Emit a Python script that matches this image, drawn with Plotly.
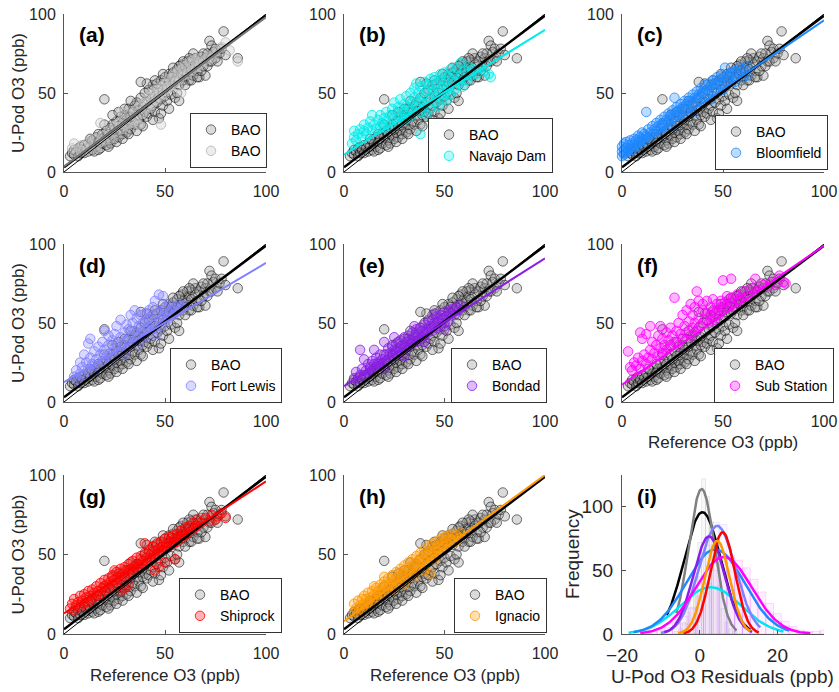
import numpy as np
import plotly.graph_objects as go

# ---------------- data ----------------
bao_pts = [(3,10),(4,12),(5,11),(5,14),(6,13),(7,10),(7,15),(8,12),(8,16),(9,14),(10,12),(10,17),(11,15),(12,13),(12,18),(13,16),(14,14),(14,20),(15,18),(15,13),
           (16,16),(16,22),(17,19),(17,14),(18,21),(18,15),(19,24),(19,18),(20,46),(20,22),(21,17),(21,26),(22,20),(22,24),(23,28),(23,18),(24,23),(24,30),(25,21),(25,27),
           (26,25),(26,32),(27,22),(27,29),(28,35),(28,26),(29,31),(29,24),(30,28),(30,36),(31,33),(31,25),(32,40),(32,30),(33,35),(33,27),(34,38),(34,32),(35,30),(35,42),
           (36,36),(36,44),(37,33),(37,39),(38,47),(38,30),(39,41),(39,36),(40,38),(40,50),(41,44),(41,35),(42,37),(42,52),(43,46),(43,40),(44,55),(44,42),(45,48),(45,38),
           (46,44),(46,56),(47,34),(47,50),(48,46),(48,58),(49,52),(49,42),(50,48),(50,60),(51,54),(51,45),(52,57),(52,62),(53,49),(53,60),(54,56),(54,63),(55,47),(55,58),
           (56,60),(56,65),(57,45),(57,55),(58,62),(58,68),(59,58),(59,64),(60,66),(60,60),(61,63),(61,70),(62,58),(62,67),(63,65),(63,71),(64,61),(65,68),(65,72),(66,64),
           (67,60),(67,70),(68,73),(69,67),(70,61),(70,72),(71,75),(72,70),(72,83),(73,80),(74,76),(75,78),(75,72),(77,75),(78,78),(79,89),(80,74),(86,72),
           (22,16),(26,19),(29,21),(32,24),(36,26),(39,29),(44,33),(48,37),(52,40),(56,50),(60,55),(63,58),(66,60),(68,64),(69,75),(71,67),(73,70),(76,70),
           (64,75),(62,72),(59,70),(57,67),(54,66),(49,62),(45,58),(41,56),(38,57),(33,45),(30,40),(27,38),(24,36),(20,30),(17,24),(13,21)]

bao2_pts = [(4,15),(5,18),(6,12),(8,14),(9,17),(11,13),(12,19),(13,16),(15,21),(16,15),(18,19),(19,23),(20,20),(22,26),(23,21),(25,29),(26,24),(27,31),(29,27),(30,33),
            (31,29),(33,37),(34,31),(35,39),(36,34),(38,42),(39,37),(40,44),(41,40),(42,48),(43,42),(44,50),(45,45),(46,52),(47,47),(48,30),(48,54),(49,49),(50,56),(51,52),
            (52,59),(53,54),(54,61),(55,57),(56,63),(57,58),(58,65),(59,61),(60,67),(61,62),(62,69),(63,64),(64,71),(65,66),(66,72),(67,68),(69,70),(71,73),(73,72),(75,76),
            (78,79),(80,82),(82,77),(86,70),(18,31),(28,38),(37,30),(58,50)]

navajo_pts = [(4,18),(5,22),(5,26),(6,20),(7,24),(8,27),(9,22),(10,26),(10,30),(11,24),(12,28),(13,32),(14,36),(14,26),(15,30),(16,27),(17,33),(18,29),(18,36),(19,31),
              (20,34),(20,28),(21,38),(22,32),(23,36),(23,29),(24,40),(25,34),(25,44),(26,37),(27,31),(27,41),(28,35),(28,46),(29,39),(30,33),(30,43),(31,48),(31,37),(32,41),
              (33,35),(33,50),(34,44),(34,39),(35,53),(35,47),(36,41),(36,56),(37,45),(37,50),(38,24),(38,38),(38,54),(39,48),(40,43),(40,57),(41,51),(41,36),(42,46),(42,55),
              (43,59),(43,40),(44,50),(44,53),(45,44),(45,60),(46,48),(46,56),(47,52),(47,42),(48,58),(48,62),(49,46),(49,54),(50,50),(50,63),(51,57),(51,45),(52,60),(52,53),
              (53,65),(53,49),(54,58),(55,62),(55,52),(56,66),(57,56),(58,61),(58,69),(59,54),(60,64),(61,58),(62,67),(63,61),(64,65),(66,62),(68,66),(70,64),(72,62),(73,60)]

bloomfield_pts = [(0,10),(0,13),(0,16),(1,11),(1,14),(1,18),(2,12),(2,15),(2,19),(3,13),(3,17),(4,15),(4,20),(5,14),(5,18),(6,17),(6,21),(7,16),(7,20),(8,19),
                  (8,23),(9,18),(9,22),(10,21),(10,25),(11,20),(11,24),(12,38),(12,23),(13,22),(13,27),(14,25),(15,24),(15,29),(16,27),(17,26),(17,31),(18,29),(19,28),(19,33),
                  (20,31),(21,30),(21,35),(22,33),(23,32),(23,37),(24,35),(25,34),(25,39),(26,47),(26,37),(27,36),(27,41),(28,39),(29,38),(29,43),(30,41),(31,40),(31,45),(32,43),
                  (33,42),(33,47),(34,45),(35,44),(35,49),(36,47),(37,46),(37,51),(38,49),(39,48),(39,53),(40,51),(41,50),(41,55),(42,52),(43,51),(43,56),(44,54),(45,53),(45,58),
                  (46,56),(47,55),(47,60),(48,57),(49,56),(49,61),(50,59),(51,66),(51,58),(52,61),(53,60),(54,63),(55,62),(56,64),(57,63),(58,66),(60,65),(62,67),(20,25),(30,35),
                  (40,44),(50,52),(44,46),(35,38),(25,29),(56,57),(60,60),(62,61)]

fortlewis_pts = [(5,16),(6,20),(7,14),(8,25),(8,18),(9,22),(10,30),(10,17),(11,25),(12,37),(12,21),(13,40),(13,28),(14,24),(15,32),(15,20),(16,27),(17,35),(17,23),(18,30),
                 (19,38),(19,26),(20,45),(20,33),(21,29),(22,42),(22,36),(23,31),(24,39),(24,27),(25,43),(25,34),(26,37),(26,48),(27,32),(28,52),(28,41),(29,36),(30,44),(30,30),
                 (31,39),(31,49),(32,46),(32,35),(33,55),(33,42),(34,38),(34,50),(35,58),(35,45),(36,41),(36,53),(37,48),(37,36),(38,55),(38,44),(39,50),(39,40),(40,56),(40,46),
                 (41,52),(41,42),(42,58),(42,48),(43,54),(43,45),(44,60),(44,50),(45,64),(45,47),(46,56),(46,43),(47,52),(47,68),(48,58),(48,48),(49,54),(49,67),(50,51),(50,60),
                 (51,56),(52,53),(52,62),(53,58),(54,55),(55,60),(56,57),(57,62),(58,60),(60,61)]

bondad_pts = [(5,15),(6,19),(7,13),(8,33),(8,17),(9,21),(10,27),(10,16),(11,20),(12,24),(12,18),(13,22),(14,26),(14,20),(15,24),(16,28),(16,22),(17,25),(18,30),(18,23),
              (19,27),(20,38),(20,25),(21,30),(22,34),(22,27),(23,31),(24,35),(24,29),(25,33),(26,37),(26,30),(27,34),(28,39),(28,32),(29,36),(30,41),(30,34),(31,38),(32,42),
              (32,35),(33,39),(34,44),(34,37),(35,41),(36,46),(36,38),(37,43),(38,47),(38,40),(39,45),(40,49),(40,42),(41,46),(42,51),(42,44),(43,48),(44,52),(44,45),(45,50),
              (46,54),(46,47),(47,51),(48,55),(48,48),(49,53),(50,57),(50,50),(51,54),(52,58),(52,51),(53,56),(54,59),(55,55),(56,60),(57,58),(58,61),(15,33),(25,41),(35,48),
              (45,56),(30,29),(40,38),(50,46),(20,21)]

substation_pts = [(3,32),(4,22),(5,20),(6,25),(7,23),(8,28),(9,44),(9,21),(10,26),(10,40),(11,30),(12,24),(12,43),(13,28),(14,48),(14,33),(15,27),(15,38),(16,31),(17,36),
                  (18,29),(18,42),(19,48),(19,34),(20,31),(20,40),(21,36),(22,44),(22,33),(23,39),(24,35),(24,47),(25,42),(26,66),(26,38),(27,45),(28,36),(28,50),(29,43),(30,55),
                  (30,40),(31,48),(32,44),(32,58),(33,51),(34,42),(34,62),(35,55),(35,47),(36,50),(36,60),(37,70),(37,45),(38,53),(38,64),(39,48),(40,58),(40,62),(41,52),(42,56),
                  (42,64),(43,50),(44,60),(44,54),(45,65),(45,57),(46,52),(47,62),(47,58),(48,55),(49,64),(49,60),(50,58),(50,77),(51,63),(52,60),(52,67),(53,65),(54,78),(54,62),
                  (55,66),(56,60),(57,68),(58,64),(59,66),(60,70),(62,67),(64,72),(66,78),(66,70),(68,71),(70,74),(72,73),(74,76),(76,74),(78,80),(80,76),(81,75)]

shiprock_pts = [(3,16),(4,19),(5,15),(5,22),(6,18),(7,20),(8,17),(8,24),(9,21),(10,19),(10,25),(11,23),(12,20),(12,27),(13,24),(14,22),(14,28),(15,26),(16,24),(16,30),
                (17,27),(18,25),(18,32),(19,29),(20,27),(20,34),(21,31),(22,29),(22,35),(23,33),(24,31),(24,37),(25,34),(26,32),(26,39),(27,36),(28,27),(28,34),(28,41),(29,38),
                (30,29),(30,36),(30,42),(31,40),(32,31),(32,38),(32,44),(33,41),(34,39),(34,46),(35,43),(36,41),(36,48),(37,44),(38,42),(38,49),(39,46),(40,44),(40,51),(41,48),
                (42,46),(42,53),(43,50),(44,48),(44,55),(45,40),(45,52),(46,50),(46,57),(47,42),(47,54),(48,52),(48,58),(49,55),(50,45),(50,54),(50,60),(51,57),(52,55),(52,61),
                (53,58),(54,57),(54,62),(55,60),(56,58),(56,63),(57,61),(58,60),(58,65),(59,63),(60,62),(60,67),(62,64),(62,68),(64,66),(64,70),(66,68),(66,72),(68,70),(70,73),
                (72,71),(73,75),(75,72),(76,74),(78,76),(80,73),(40,57),(25,40),(55,47)]

ignacio_pts = [(5,14),(5,19),(6,16),(7,13),(7,21),(8,18),(9,15),(9,22),(10,19),(10,24),(11,17),(11,22),(12,26),(12,20),(13,23),(14,27),(14,21),(15,25),(16,29),(16,23),
               (17,27),(18,31),(18,25),(19,29),(20,33),(20,26),(21,31),(22,35),(22,28),(23,32),(24,37),(24,30),(25,34),(26,39),(26,32),(27,36),(28,41),(28,33),(29,38),(30,43),
               (30,35),(31,40),(32,45),(32,37),(33,42),(34,47),(34,39),(35,44),(36,49),(36,41),(37,46),(38,51),(38,43),(39,48),(40,53),(40,45),(41,50),(42,55),(42,47),(43,52),
               (44,57),(44,49),(45,54),(46,58),(46,51),(47,55),(48,60),(48,53),(49,57),(50,61),(50,55),(51,59),(52,62),(52,56),(53,60),(54,63),(55,58),(56,62),(57,60),(58,64),
               (35,36),(40,40),(45,46),(25,28),(30,31),(15,30),(20,36),(43,38)]

site_names = ["BAO", "Navajo Dam", "Bloomfield", "Fort Lewis", "Bondad", "Sub Station", "Shiprock", "Ignacio"]
site_points = [bao2_pts, navajo_pts, bloomfield_pts, fortlewis_pts, bondad_pts, substation_pts, shiprock_pts, ignacio_pts]
site_colors = [(175, 175, 175), (0, 235, 235), (30, 136, 255), (128, 128, 255), (138, 30, 232), (255, 0, 255), (255, 0, 0), (255, 153, 0)]
site_fit_intercept = [3.5, 11, 9, 12.5, 10, 11, 13, 8]
site_fit_slope = [0.945, 0.79, 0.87, 0.755, 0.81, 0.88, 0.83, 0.92]
bao_fit_intercept, bao_fit_slope = 3.0, 0.96
panel_labels = ["(a)", "(b)", "(c)", "(d)", "(e)", "(f)", "(g)", "(h)", "(i)"]

# residual normal fits (panel i)
curve_colors = ["black", "#808080", "#00E5EE", "#1E88FF", "#8080FF", "#8A1EE8", "#FF00FF", "#FF0000", "#FF9900"]
curve_mu = [0.7, 0.5, 2.8, 4.0, 4.5, 2.4, 6.2, 5.9, 4.5]
curve_sigma = [4.75, 3.3, 7.8, 7.5, 4.7, 4.0, 7.2, 3.2, 3.2]
curve_peak = [95.8, 114, 36.8, 66.5, 85, 76.7, 60.5, 80, 73.3]
curve_lo = [-8.5, -6, -18.3, -17, -10, -9.1, -15.3, -4.2, -5.5]
curve_hi = [13, 9.5, 21.6, 23, 15.6, 13.5, 28.5, 15.2, 13]

hist_gray_centers = [-6, -5, -4, -3, -2, -1, 0, 1, 2, 3, 4, 5, 6, 7, 8, 9]
hist_gray_counts = [2, 4, 9, 17, 30, 48, 72, 122, 108, 88, 62, 38, 20, 9, 4, 2]
hist_mag_centers = [-14, -12, -10, -8, -6, -4, -2, 0, 2, 4, 6, 8, 10, 12, 14, 16, 18, 20, 22, 24, 26, 28, 30, 32]
hist_mag_counts = [1, 2, 3, 5, 9, 14, 21, 30, 40, 50, 57, 60, 58, 52, 43, 33, 24, 16, 10, 6, 3, 2, 2, 3]
hist_per_centers = [-4, -2, 0, 2, 4, 6, 8, 10, 12, 14]
hist_per_counts = [8, 20, 45, 70, 88, 86, 62, 35, 14, 4]

# ---------------- layout geometry (pixel positions in the 839x692 window) ----------------
W, H = 839, 692
col_px = [(64, 266), (344, 545), (622, 824)]
row_px = [(14, 172), (244, 402), (475, 634)]
legend_right = [267, 553, 828, 282, 547, 834, 282, 547]
legend_bottom = [162, 167, 164, 397, 397, 397, 627, 627]

def px(x):
    return x / W

def py(y):
    return 1 - y / H

TXT = "#262626"
FONT = "Liberation Sans, Arial, Helvetica, sans-serif"

def rgba(c, a):
    return f"rgba({c[0]},{c[1]},{c[2]},{a})"

fig = go.Figure()
layout = dict(template="none", width=W, height=H, margin=dict(l=0, r=0, t=0, b=0, autoexpand=False),
              paper_bgcolor="white", plot_bgcolor="white",
              font=dict(family=FONT, color=TXT), annotations=[])

bao_x = [p[0] for p in bao_pts]
bao_y = [p[1] for p in bao_pts]
MS = 9.5

for k in range(9):
    r, c = divmod(k, 3)
    ax = "" if k == 0 else str(k + 1)
    xd = [px(col_px[c][0]), px(col_px[c][1])]
    yd = [py(row_px[r][1]), py(row_px[r][0])]
    is_hist = (k == 8)
    fs = 19 if is_hist else 16
    common = dict(showgrid=False, zeroline=False, showline=True, linecolor="#555555", linewidth=1,
                  ticks="inside", ticklen=4, tickcolor="#555555", mirror=False, automargin=False,
                  ticklabeloverflow="allow",
                  tickfont=dict(size=fs, color=TXT, family=FONT))
    if is_hist:
        layout["xaxis" + ax] = dict(domain=xd, range=[-20, 32], tickvals=[-20, 0, 20], anchor="y" + ax,
                                    ticklabelstandoff=4, **common)
        layout["yaxis" + ax] = dict(domain=yd, range=[0, 125], tickvals=[0, 50, 100], anchor="x" + ax,
                                    ticklabelstandoff=4, **common)
    else:
        layout["xaxis" + ax] = dict(domain=xd, range=[0, 100], tickvals=[0, 50, 100], anchor="y" + ax,
                                    ticklabelstandoff=5, **common)
        layout["yaxis" + ax] = dict(domain=yd, range=[0, 100], tickvals=[0, 50, 100], anchor="x" + ax,
                                    ticklabelstandoff=4, **common)

    # panel label
    layout["annotations"].append(dict(text="<b>%s</b>" % panel_labels[k], xref="paper", yref="paper",
                                      x=px(col_px[c][0] + 13), y=py(row_px[r][0] + 21),
                                      xanchor="left", yanchor="middle", showarrow=False,
                                      font=dict(size=21, color="black", family=FONT)))
    if is_hist:
        continue

    leg = "legend" if k == 0 else "legend%d" % (k + 1)
    col = site_colors[k]
    pts = site_points[k]
    # BAO reference points
    fig.add_trace(go.Scatter(x=bao_x, y=bao_y, mode="markers", name="BAO", legend=leg,
                             xaxis="x" + ax, yaxis="y" + ax, cliponaxis=False,
                             marker=dict(size=MS, color="rgba(150,150,150,0.35)",
                                         line=dict(color="rgba(0,0,0,0.55)", width=1))))
    # site points
    if k == 0:
        mk = dict(size=MS, color="rgba(215,215,215,0.45)", line=dict(color="rgba(170,170,170,0.7)", width=1))
    else:
        mk = dict(size=MS, color=rgba(col, 0.3), line=dict(color=rgba(col, 0.8), width=1))
    fig.add_trace(go.Scatter(x=[p[0] for p in pts], y=[p[1] for p in pts], mode="markers",
                             name=site_names[k], legend=leg, xaxis="x" + ax, yaxis="y" + ax,
                             cliponaxis=False, marker=mk))
    # 1:1 line
    xl = [0, 100]
    fig.add_trace(go.Scatter(x=xl, y=xl, mode="lines", showlegend=False, xaxis="x" + ax, yaxis="y" + ax,
                             line=dict(color="black", width=1)))
    # BAO fit
    fig.add_trace(go.Scatter(x=xl, y=[bao_fit_intercept + bao_fit_slope * v for v in xl], mode="lines",
                             showlegend=False, xaxis="x" + ax, yaxis="y" + ax,
                             line=dict(color="black", width=2.5)))
    # site fit
    lc = "rgb(120,120,120)" if k == 0 else rgba(col, 1)
    fig.add_trace(go.Scatter(x=xl, y=[site_fit_intercept[k] + site_fit_slope[k] * v for v in xl], mode="lines",
                             showlegend=False, xaxis="x" + ax, yaxis="y" + ax,
                             line=dict(color=lc, width=2)))
    layout[leg] = dict(x=px(legend_right[k]), y=py(legend_bottom[k] + 6), xanchor="right", yanchor="bottom",
                       bgcolor="white", bordercolor="#333333", borderwidth=1,
                       font=dict(size=14, color="black", family=FONT), tracegroupgap=0,
                       itemwidth=30, itemsizing="trace")

# ---------------- panel (i) ----------------
fig.add_trace(go.Bar(x=hist_mag_centers, y=hist_mag_counts, width=2, xaxis="x9", yaxis="y9", showlegend=False,
                     marker=dict(color="rgba(255,0,255,0.06)", line=dict(color="rgba(255,0,255,0.15)", width=1))))
fig.add_trace(go.Bar(x=hist_per_centers, y=hist_per_counts, width=2, xaxis="x9", yaxis="y9", showlegend=False,
                     marker=dict(color="rgba(128,128,255,0.06)", line=dict(color="rgba(128,128,255,0.15)", width=1))))
fig.add_trace(go.Bar(x=hist_gray_centers, y=hist_gray_counts, width=1, xaxis="x9", yaxis="y9", showlegend=False,
                     marker=dict(color="rgba(150,150,150,0.07)", line=dict(color="rgba(150,150,150,0.18)", width=1))))
for i in range(len(curve_mu)):
    xs = np.linspace(curve_lo[i], curve_hi[i], 150)
    ys = curve_peak[i] * np.exp(-(xs - curve_mu[i]) ** 2 / (2 * curve_sigma[i] ** 2))
    fig.add_trace(go.Scatter(x=xs, y=ys, mode="lines", showlegend=False, xaxis="x9", yaxis="y9",
                             line=dict(color=curve_colors[i], width=2.5)))
layout["barmode"] = "overlay"

# ---------------- axis titles ----------------
for r in range(3):
    layout["annotations"].append(dict(text="U-Pod O3 (ppb)", xref="paper", yref="paper", x=px(18),
                                      y=py((row_px[r][0] + row_px[r][1]) / 2), textangle=-90,
                                      showarrow=False, xanchor="center", yanchor="middle",
                                      font=dict(size=17, color=TXT, family=FONT)))
for (c, ypx) in [(2, 442), (0, 675), (1, 675)]:
    layout["annotations"].append(dict(text="Reference O3 (ppb)", xref="paper", yref="paper",
                                      x=px((col_px[c][0] + col_px[c][1]) / 2), y=py(ypx),
                                      showarrow=False, xanchor="center", yanchor="middle",
                                      font=dict(size=17, color=TXT, family=FONT)))
layout["annotations"].append(dict(text="U-Pod O3 Residuals (ppb)", xref="paper", yref="paper", x=px(722),
                                  y=py(676), showarrow=False, xanchor="center", yanchor="middle",
                                  font=dict(size=19, color=TXT, family=FONT)))
layout["annotations"].append(dict(text="Frequency", xref="paper", yref="paper", x=px(572), y=py(554),
                                  textangle=-90, showarrow=False, xanchor="center", yanchor="middle",
                                  font=dict(size=19, color=TXT, family=FONT)))

fig.update_layout(**layout)
fig.write_html("out.html", config={"displayModeBar": False},
               post_script="document.body.style.margin='0';document.body.style.overflow='hidden';")
